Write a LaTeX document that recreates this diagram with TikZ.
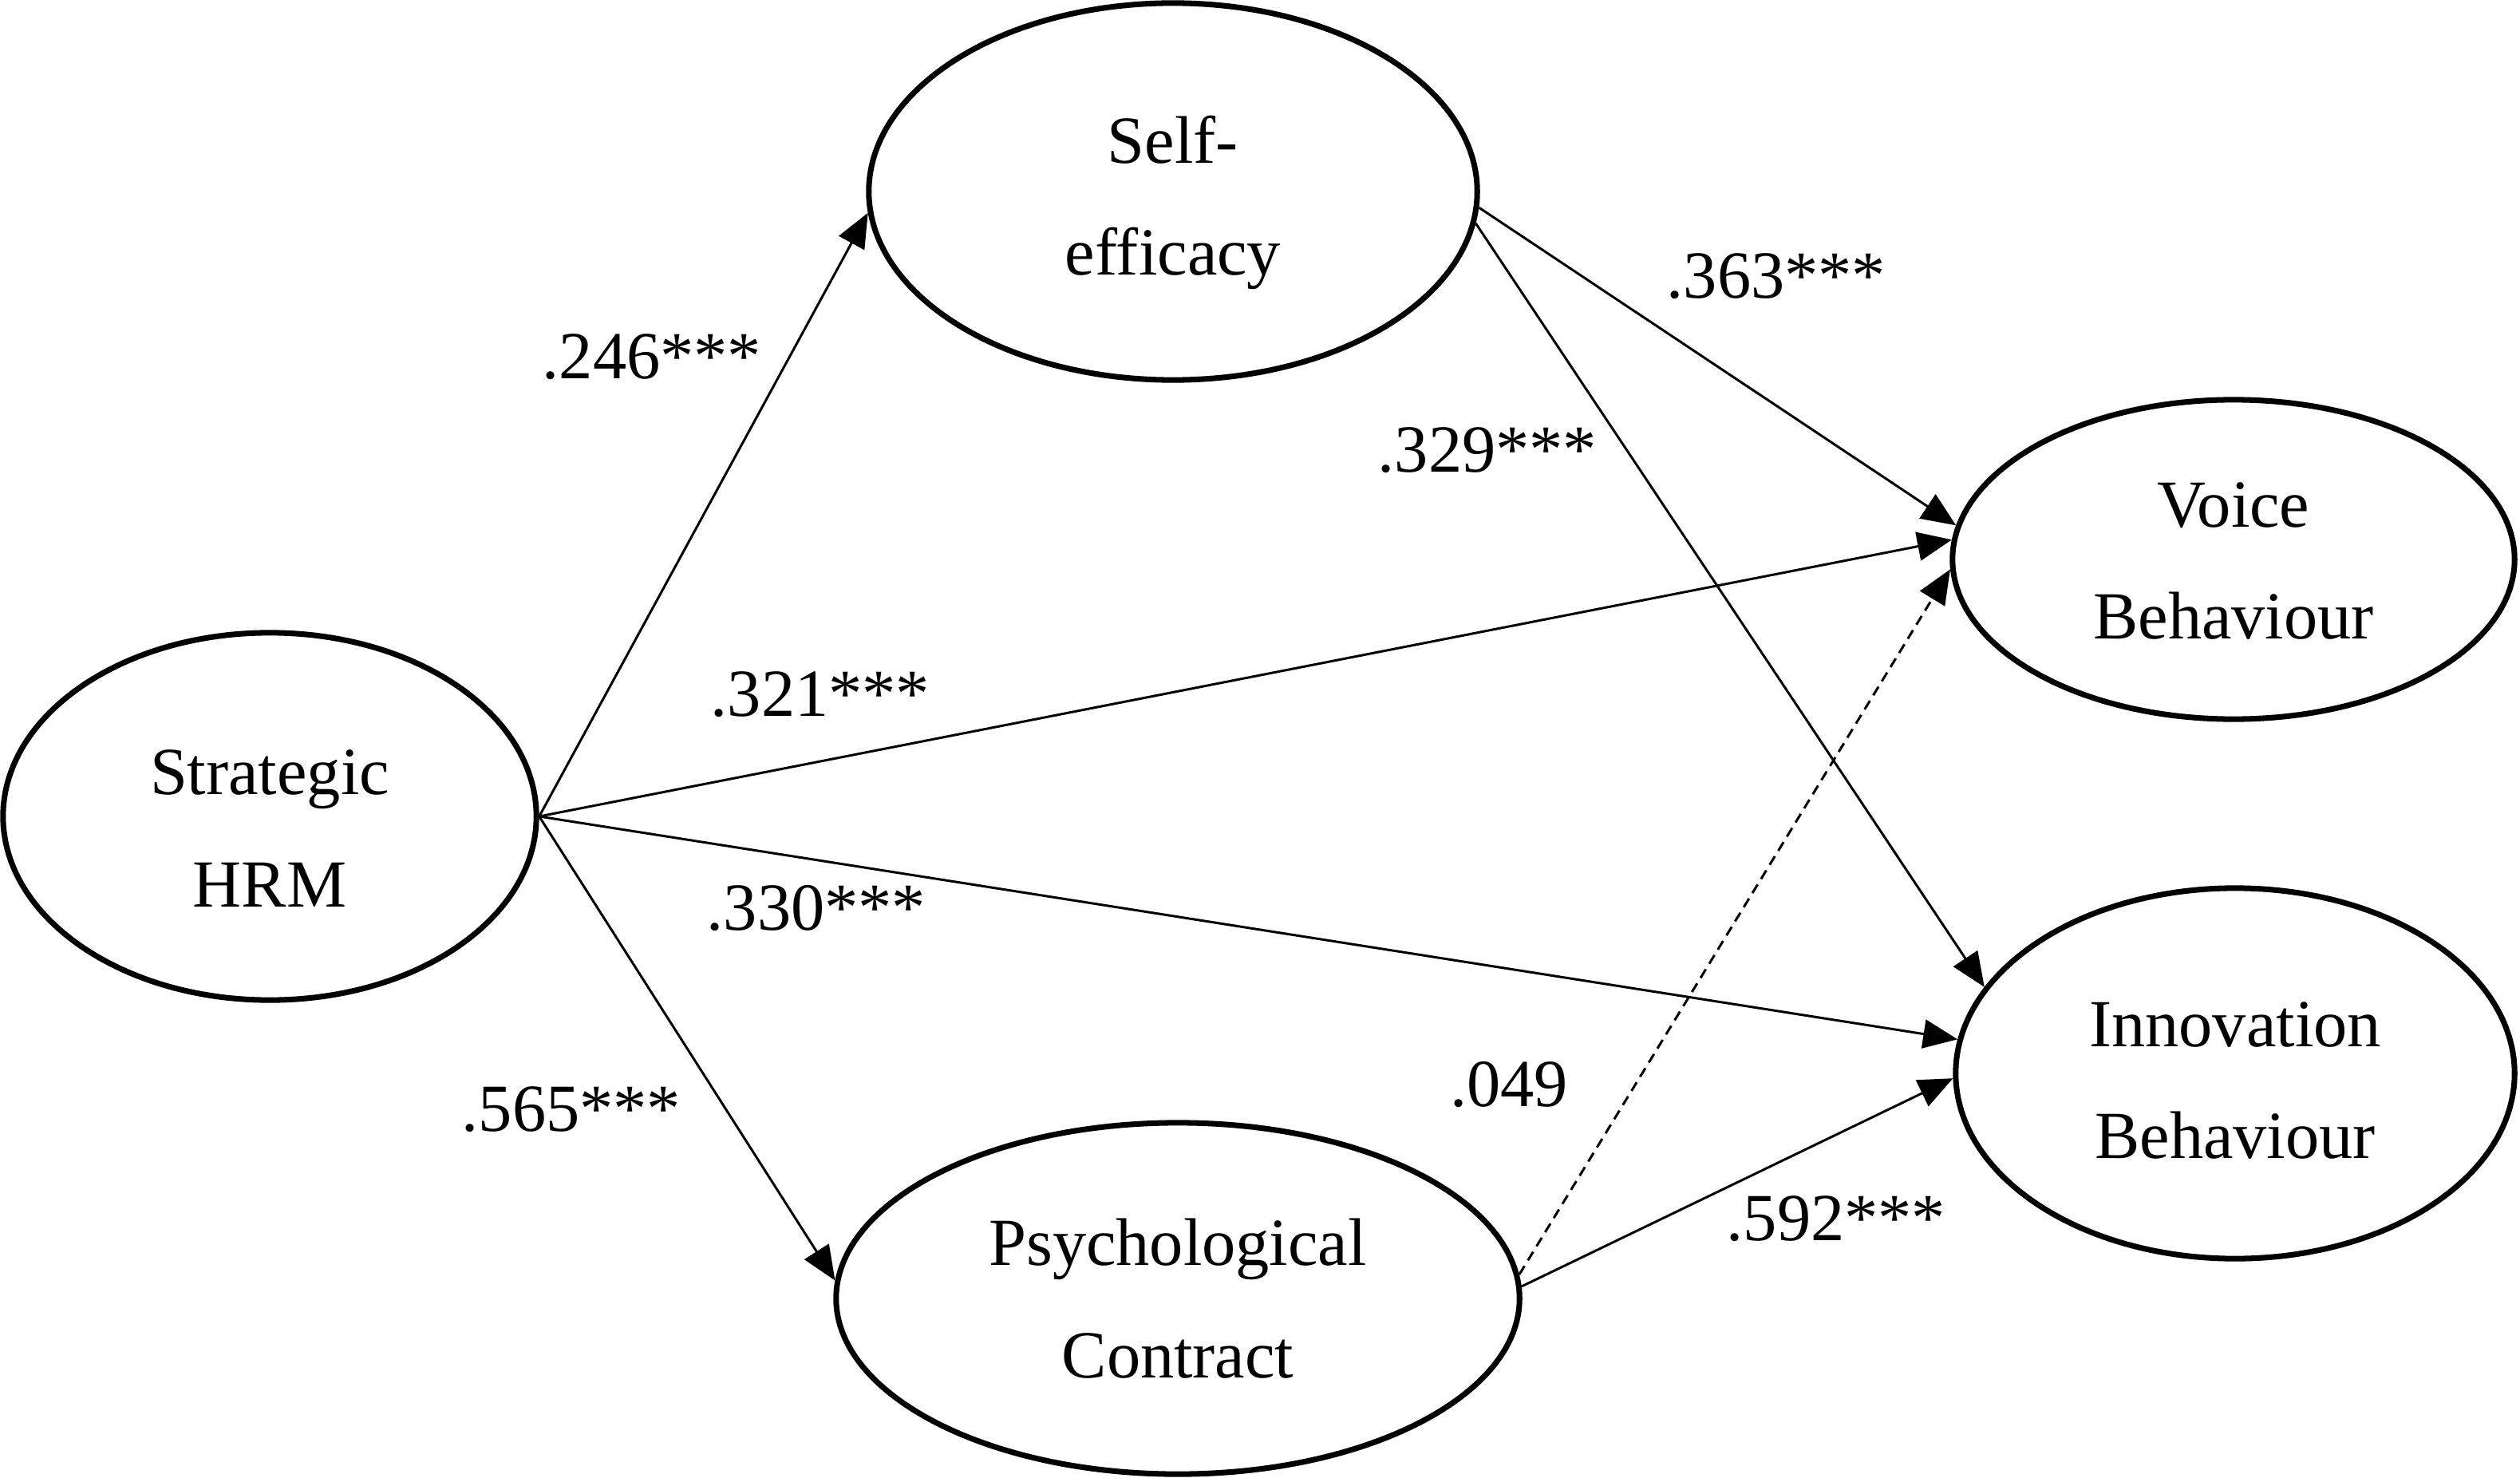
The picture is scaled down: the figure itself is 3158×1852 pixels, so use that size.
\documentclass[tikz,border=0pt]{standalone}
\usepackage{fontspec}
\setmainfont{Liberation Serif}
\usetikzlibrary{arrows.meta,shapes.geometric}
\begin{document}
\begin{tikzpicture}[x=0.01cm,y=-0.01cm,
  latent/.style={draw, ellipse, line width=2pt, inner sep=0pt},
  lbl/.style={align=center, inner sep=0pt, font=\fontsize{24}{40}\selectfont},
  pathline/.style={line width=0.85pt, -{Triangle[length=0.43cm,width=0.36cm]}},
  nspath/.style={pathline, dash pattern=on 3.6pt off 2.3pt},
  coef/.style={font=\fontsize{24}{28}\selectfont, inner sep=0pt}]
\useasboundingbox (0,0) rectangle (3158,1852);
% constructs
\node[latent, minimum width=6.68cm, minimum height=4.6cm] (shrm) at (338,1023) {};
\node[latent, minimum width=7.62cm, minimum height=4.72cm] (se) at (1470,240) {};
\node[latent, minimum width=8.56cm, minimum height=4.4cm] (pc) at (1476,1627) {};
\node[latent, minimum width=7.04cm, minimum height=4.0cm] (vb) at (2799,701) {};
\node[latent, minimum width=7.0cm, minimum height=4.64cm] (ib) at (2801,1345) {};
\node[lbl] (shrmt) at ([yshift=-0.15cm]shrm.center) {Strategic\\HRM};
\node[lbl] (set) at ([yshift=-0.14cm]se.center) {Self-\\efficacy};
\node[lbl] (pct) at (pc.center) {Psychological\\Contract};
\node[lbl] (vbt) at ([yshift=-0.02cm]vb.center) {Voice\\Behaviour};
\node[lbl] (ibt) at ([yshift=-0.09cm]ib.center) {Innovation\\Behaviour};
% paths
\draw[pathline] (shrm.east) -- (se.184.6);
\draw[pathline] (shrm.east) -- (vb.176.8);
\draw[pathline] (shrm.east) -- (ib.173.5);
\draw[pathline] (shrm.east) -- (pc.177.9);
\draw[pathline] (se.357) -- (vb.173.3);
\draw[pathline] (se.354.8) -- (ib.161.4);
\draw[nspath] (pc.4.8) -- (vb.182.3);
\draw[pathline] (pc.2.1) -- (ib.181.3);
% coefficients
\node[coef] (l246) at (817,447) {.246***};
\node[coef] (l363) at (2226,346) {.363***};
\node[coef] (l329) at (1864,564) {.329***};
\node[coef] (l321) at (1028,870) {.321***};
\node[coef] (l330) at (1023,1138) {.330***};
\node[coef] (l565) at (716,1390) {.565***};
\node[coef] (l049) at (1891,1359) {.049};
\node[coef] (l592) at (2301,1527) {.592***};
\end{tikzpicture}
\end{document}
